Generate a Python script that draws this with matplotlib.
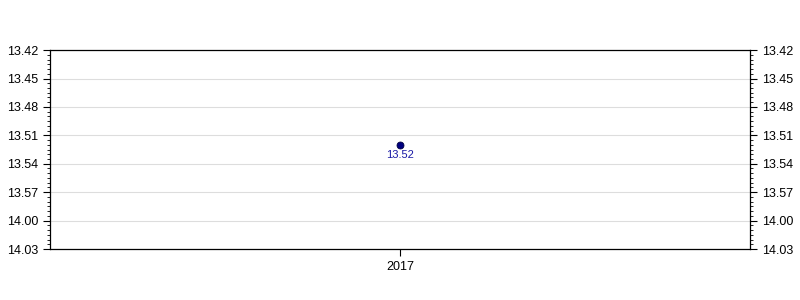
import matplotlib
matplotlib.use("Agg")
import matplotlib.pyplot as plt
from matplotlib.ticker import FixedLocator, MultipleLocator, FuncFormatter

plt.rcParams['font.family'] = ['Liberation Sans', 'DejaVu Sans']

# data: race times as minutes.seconds
years = [2017]
times = ["13.52"]
y_ticks = ["13.42", "13.45", "13.48", "13.51", "13.54", "13.57", "14.00", "14.03"]


def to_sec(s):
    m, sec = s.split(".")
    return int(m) * 60 + int(sec)


def fmt(v, pos=None):
    v = int(round(v))
    return "%d.%02d" % (v // 60, v % 60)


secs = [to_sec(t) for t in times]
tick_secs = [to_sec(t) for t in y_ticks]

fig = plt.figure(figsize=(8, 3), dpi=100)
ax = fig.add_axes([0.0625, 0.17, 0.875, 0.663])

ax.plot(years, secs, "o", color="#000080", markeredgecolor="#000040",
        markersize=5, markeredgewidth=0.6, zorder=3)
for x, y, t in zip(years, secs, times):
    ax.annotate(t, (x, y), xytext=(0, -4), textcoords="offset points",
                ha="center", va="top", color="#1a1aa6", fontsize=8)

ax.set_ylim(tick_secs[-1], tick_secs[0])
ax.set_xlim(years[0] - 1, years[-1] + 1)
ax.yaxis.set_major_locator(FixedLocator(tick_secs))
ax.yaxis.set_minor_locator(MultipleLocator(0.5))
ax.yaxis.set_major_formatter(FuncFormatter(fmt))
ax.set_xticks(years)
ax.set_xticklabels([str(y) for y in years])
ax.grid(axis="y", color="#dddddd", linewidth=0.8)
ax.set_axisbelow(True)

ax.tick_params(axis="y", which="both", left=True, right=True,
               labelleft=True, labelright=True, labelsize=9, direction="out")
ax.tick_params(axis="y", which="major", length=5)
ax.tick_params(axis="y", which="minor", length=2.5)
ax.tick_params(axis="x", labelsize=9, length=5)

for s in ax.spines.values():
    s.set_linewidth(0.9)

fig.savefig("out.png", dpi=100)
